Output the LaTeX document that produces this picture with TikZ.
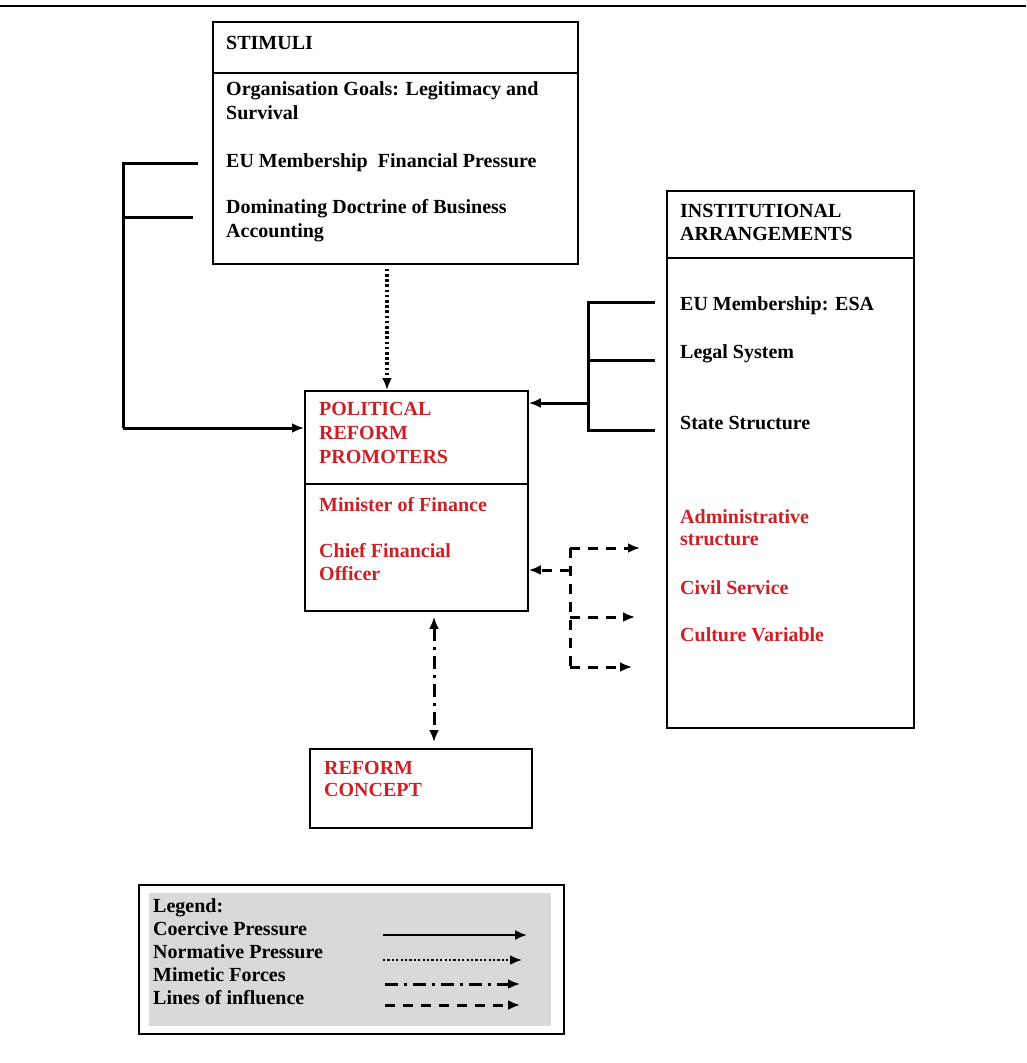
\documentclass[tikz,border=0pt]{standalone}
\usepackage{fontspec}
\setmainfont{Liberation Serif}
\usepackage{xcolor}
\usetikzlibrary{calc,arrows.meta}

\definecolor{promoterred}{RGB}{204,32,39}
\definecolor{legendgray}{RGB}{217,217,217}

\tikzset{
  >={Latex[length=12pt,width=10pt]},
  box/.style={draw, line width=1.8pt, anchor=north west, inner sep=0pt},
  txt/.style={anchor=base west, align=left, inner sep=0pt,
    font=\fontsize{20}{24}\selectfont\bfseries},
  redtxt/.style={txt, text=promoterred},
  link/.style={line width=3pt},
  coercive/.style={line width=3pt, ->},
  normative/.style={line width=3.4pt, dash pattern=on 2.6pt off 2.6pt, ->},
  mimetic/.style={line width=3pt, dash pattern=on 13pt off 6pt on 3pt off 6pt},
  influence/.style={line width=3pt, dash pattern=on 10pt off 8pt},
}

\begin{document}
\begin{tikzpicture}[x=1pt,y=-1pt]
  \useasboundingbox (0,0) rectangle (1026,1063);
  % Rule across the top
  \draw[line width=1.8pt] (0,6) -- (1026,6);

  % Boxes
  \node[box, minimum width=365pt, minimum height=242pt] (stimuli) at (212,21) {};
  \node[box, minimum width=223pt, minimum height=220pt] (prp) at (304,390) {};
  \node[box, minimum width=247pt, minimum height=537pt] (inst) at (666,190) {};
  \node[box, minimum width=222pt, minimum height=79pt] (reform) at (309,748) {};

  % Header dividers
  \draw[line width=1.8pt] ($(stimuli.north west)+(0,52)$) -- ($(stimuli.north east)+(0,52)$);
  \draw[line width=1.8pt] ($(prp.north west)+(0,94)$) -- ($(prp.north east)+(0,94)$);
  \draw[line width=1.8pt] ($(inst.north west)+(0,68)$) -- ($(inst.north east)+(0,68)$);

  % Stimuli texts (multi-line nodes sit on their last baseline)
  \node[txt] (stTitle) at (226,49) {STIMULI};
  \node[txt] (stGoals) at (226,119) {Organisation Goals: Legitimacy and\\Survival};
  \node[txt] (stFin) at (226,167) {EU Membership\ \ Financial Pressure};
  \node[txt] (stDoc) at (226,237) {Dominating Doctrine of Business\\Accounting};

  % Promoters texts
  \node[redtxt] (prpTitle) at (319,463) {POLITICAL\\REFORM\\PROMOTERS};
  \node[redtxt] (prpMin) at (319,511) {Minister of Finance};
  \node[redtxt, font=\fontsize{20}{23}\selectfont\bfseries] (prpCfo) at (319,580) {Chief Financial\\Officer};

  % Institutional texts
  \node[txt, font=\fontsize{20}{23}\selectfont\bfseries] (iaTitle) at (680,240) {INSTITUTIONAL\\ARRANGEMENTS};
  \node[txt] (iaEsa) at (680,310) {EU Membership: ESA};
  \node[txt] (iaLegal) at (680,358) {Legal System};
  \node[txt] (iaState) at (680,429) {State Structure};
  \node[redtxt, font=\fontsize{20}{22}\selectfont\bfseries] (iaAdmin) at (680,545) {Administrative\\structure};
  \node[redtxt] (iaCivil) at (680,594) {Civil Service};
  \node[redtxt] (iaCulture) at (680,641) {Culture Variable};

  % Reform concept text
  \node[redtxt, font=\fontsize{20}{22}\selectfont\bfseries] (rcTitle) at (324,796) {REFORM\\CONCEPT};

  % Coercive bracket from stimuli
  \coordinate (lEU) at (198,163);
  \coordinate (lDoc) at (193,217);
  \coordinate (lcorner) at (123,428);
  \draw[link] (lEU) -| (lcorner);
  \draw[link] (lDoc) -- (lDoc -| lcorner);
  \draw[coercive] (lcorner) -- (prp.west |- lcorner);

  % Coercive bracket from institutions
  \coordinate (rEsa) at (655,302);
  \coordinate (rLegal) at (655,360);
  \coordinate (rState) at (655,430);
  \coordinate (rspine) at (588,403);
  \draw[link] (rEsa) -| (rspine |- rState) -- (rState);
  \draw[link] (rLegal) -- (rLegal -| rspine);
  \draw[coercive] (rspine) -- (prp.east |- rspine);

  % Normative pressure
  \coordinate (nx) at (387,0);
  \draw[normative, shorten <=4pt] (stimuli.south -| nx) -- (prp.north -| nx);

  % Mimetic forces
  \coordinate (mx) at (434,0);
  \draw[mimetic, <->, shorten <=5pt, shorten >=6pt] (prp.south -| mx) -- (reform.north -| mx);

  % Lines of influence
  \coordinate (dtop) at (570,548);
  \coordinate (dmid) at (570,570);
  \coordinate (dlow) at (570,617);
  \coordinate (dbot) at (570,667);
  \coordinate (dA) at (640,548);
  \coordinate (dB) at (635,617);
  \coordinate (dC) at (632,667);
  \draw[influence] (dtop) -- (dbot);
  \draw[influence, ->] (dtop) -- (dA);
  \draw[influence, ->] (dlow) -- (dB);
  \draw[influence, ->] (dbot) -- (dC);
  \draw[influence, ->] (dmid) -- (prp.east |- dmid);

  % Legend
  \node[box, minimum width=425pt, minimum height=149pt] (legend) at (138,884) {};
  \fill[legendgray] (149,893) rectangle (551,1026);
  \node[txt, font=\fontsize{20}{23}\selectfont\bfseries] (legTxt) at (153,1004)
    {Legend:\\Coercive Pressure\\Normative Pressure\\Mimetic Forces\\Lines of influence};
  \coordinate (lgA1) at (383,935);  \coordinate (lgA2) at (527,935);
  \coordinate (lgB1) at (383,960);  \coordinate (lgB2) at (522,960);
  \coordinate (lgC1) at (385,984);  \coordinate (lgC2) at (520,984);
  \coordinate (lgD1) at (385,1005); \coordinate (lgD2) at (520,1005);
  \draw[coercive, line width=2pt] (lgA1) -- (lgA2);
  \draw[normative, line width=2.6pt, dash pattern=on 2.2pt off 2.2pt] (lgB1) -- (lgB2);
  \draw[mimetic, ->] (lgC1) -- (lgC2);
  \draw[influence, ->] (lgD1) -- (lgD2);
\end{tikzpicture}
\end{document}
